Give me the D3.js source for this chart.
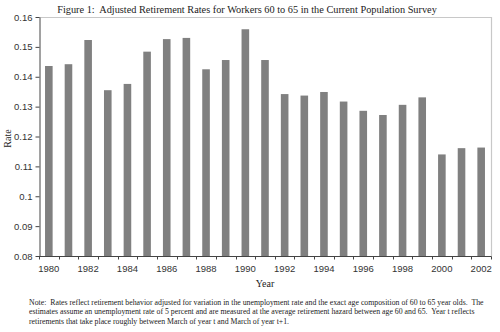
<!DOCTYPE html>
<html><head><meta charset="utf-8">
<script src="https://cdn.jsdelivr.net/npm/d3@7"></script>
<style>body{margin:0;background:#fff}svg{display:block}text{white-space:pre}</style>
</head><body>
<svg id="c" width="500" height="332"></svg>
<script>
const years = d3.range(1980, 2003).map(String);
const rates = [0.1436,0.1442,0.1523,0.1355,0.1376,0.1484,0.1526,0.1530,0.1425,0.1456,0.1559,
  0.1456,0.1342,0.1337,0.1349,0.1317,0.1286,0.1272,0.1306,0.1331,0.1140,0.1161,0.1163];
const yTicks = [0.08,0.09,0.1,0.11,0.12,0.13,0.14,0.15,0.16];
const xLabels = ["1980","1982","1984","1986","1988","1990","1992","1994","1996","1998","2000","2002"];
const title = "Figure 1:  Adjusted Retirement Rates for Workers 60 to 65 in the Current Population Survey";
const noteLines = [
  "Note:  Rates reflect retirement behavior adjusted for variation in the unemployment rate and the exact age composition of 60 to 65 year olds.  The",
  "estimates assume an unemployment rate of 5 percent and are measured at the average retirement hazard between age 60 and 65.  Year t reflects",
  "retirements that take place roughly between March of year t and March of year t+1."
];

const svg = d3.select("#c");
const L = 39, R = 491, T = 17, B = 256;
const xb = d3.scaleBand().domain(years).range([L, R]);
const y = d3.scaleLinear().domain([0.08, 0.16]).range([B, T]);
const serif = "'Liberation Serif','Times New Roman',serif";
const sans = "'Liberation Sans',Arial,sans-serif";

// frame top/right
svg.append("path").attr("d", `M${L},${T+0.5}H${R+0.5}V${B}`).attr("fill","none").attr("stroke","#c8c8c8").attr("stroke-width",1.2);

svg.append("g").selectAll("rect").data(rates).join("rect")
  .attr("x", (d,i) => xb(years[i]) + xb.bandwidth()/2 - 3.8)
  .attr("width", 7.6)
  .attr("y", d => y(d)).attr("height", d => B - y(d))
  .attr("fill", "#808080");

// y axis
const ya = svg.append("g").attr("transform", `translate(${L+0.5},0)`)
  .call(d3.axisLeft(y).tickValues(yTicks).tickSize(4).tickSizeOuter(0).tickPadding(3).tickFormat(d => String(+d.toFixed(2))));
ya.select(".domain").attr("stroke","#444");
ya.selectAll(".tick line").attr("stroke","#444");
ya.selectAll("text").attr("font-family", sans).attr("font-size", 9.5).attr("fill","#333");

// x axis ticks at band boundaries
const xa = svg.append("g").attr("transform", `translate(0,${B+0.5})`);
xa.append("line").attr("x1", L).attr("x2", R+0.5).attr("stroke","#444");
xa.selectAll("line.t").data(years.concat(["end"])).join("line").attr("class","t")
  .attr("x1", (d,i) => Math.round(L + i*xb.step())+0.5).attr("x2", (d,i) => Math.round(L + i*xb.step())+0.5)
  .attr("y1", 0).attr("y2", 3).attr("stroke","#444");
xa.selectAll("text").data(xLabels).join("text")
  .attr("x", d => xb(d) + xb.bandwidth()/2).attr("y", 15.5)
  .attr("text-anchor","middle").attr("font-family", sans).attr("font-size", 9.5).attr("fill","#333")
  .text(d => d);

svg.append("text").attr("x", 247).attr("y", 12.5).attr("text-anchor","middle")
  .attr("font-family", serif).attr("font-size", 10.3).attr("fill","#222").text(title);
svg.append("text").attr("x", (L+R)/2).attr("y", 287).attr("text-anchor","middle")
  .attr("font-family", serif).attr("font-size", 10).attr("fill","#222").text("Year");
svg.append("text").attr("transform", `translate(11,${(T+B)/2 + 2}) rotate(-90)`).attr("text-anchor","middle")
  .attr("font-family", serif).attr("font-size", 10).attr("fill","#222").text("Rate");
svg.append("g").selectAll("text").data(noteLines).join("text")
  .attr("x", 29).attr("y", (d,i) => 304.5 + i*9.7)
  .attr("font-family", serif).attr("font-size", 7.8).attr("fill","#222").text(d => d);
</script>
</body></html>
